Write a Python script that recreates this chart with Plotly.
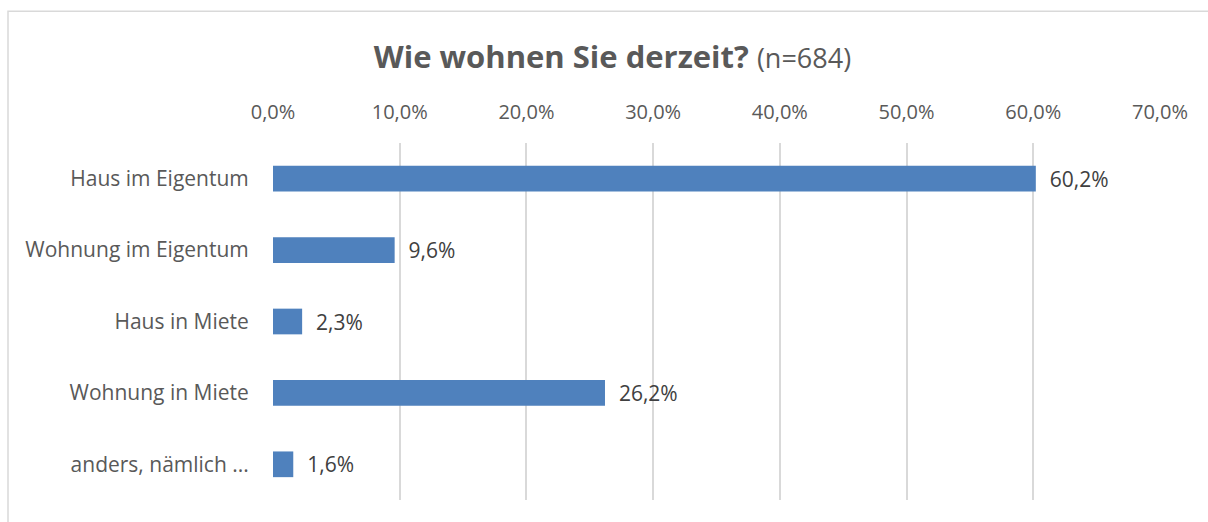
import plotly.graph_objects as go

categories = ["Haus im Eigentum", "Wohnung im Eigentum", "Haus in Miete", "Wohnung in Miete", "anders, nämlich ..."]
values = [60.2, 9.6, 2.3, 26.2, 1.6]
tick_values = [0, 10, 20, 30, 40, 50, 60, 70]
tick_labels = ["0,0%", "10,0%", "20,0%", "30,0%", "40,0%", "50,0%", "60,0%", "70,0%"]

FONT = "'Open Sans', sans-serif"
labels = ["  " + f"{v:.1f}".replace(".", ",") + "%" for v in values]

fig = go.Figure(go.Bar(
    y=categories, x=values, orientation="h",
    marker=dict(color="#4f81bd", line=dict(width=0)),
    width=0.36,
    text=labels, textposition="outside", cliponaxis=False, constraintext="none",
    textfont=dict(family=FONT, size=21, color="#404040"),
    hoverinfo="skip",
))

fig.update_layout(
    width=1208, height=522,
    margin=dict(l=273, r=48, t=143, b=22),
    paper_bgcolor="white", plot_bgcolor="white",
    separators=",.",
    showlegend=False,
    title=dict(
        text="<b>Wie wohnen Sie derzeit?</b> <span style='font-size:27px'>(n=684)</span>",
        x=0.507, xref="container", xanchor="center",
        y=1 - 57 / 522, yref="container", yanchor="middle",
        font=dict(family=FONT, size=31, color="#595959"),
    ),
    xaxis=dict(
        side="top", range=[0, 70], tickvals=tick_values, ticktext=tick_labels,
        showgrid=True, gridcolor="#d9d9d9", gridwidth=1.5,
        zeroline=False, showline=False,
        tickfont=dict(family=FONT, size=20, color="#595959"),
        ticks="outside", ticklen=15, tickcolor="rgba(0,0,0,0)",
        fixedrange=True,
    ),
    yaxis=dict(
        autorange="reversed", showgrid=False, zeroline=False, showline=False,
        tickfont=dict(family=FONT, size=21, color="#595959"),
        ticks="outside", ticklen=19, tickcolor="rgba(0,0,0,0)",
        fixedrange=True,
    ),
    shapes=[dict(
        type="rect", xref="paper", yref="paper",
        x0=(8 - 273) / 887, x1=1.2, y0=-0.3, y1=(500.5 - 11) / 357.5,
        line=dict(color="#d9d9d9", width=1.5), fillcolor="rgba(0,0,0,0)",
        layer="below",
    )],
)

fig.write_html("out.html", config={"displayModeBar": False},
               post_script="document.body.style.margin='0';document.body.style.overflow='hidden';")
